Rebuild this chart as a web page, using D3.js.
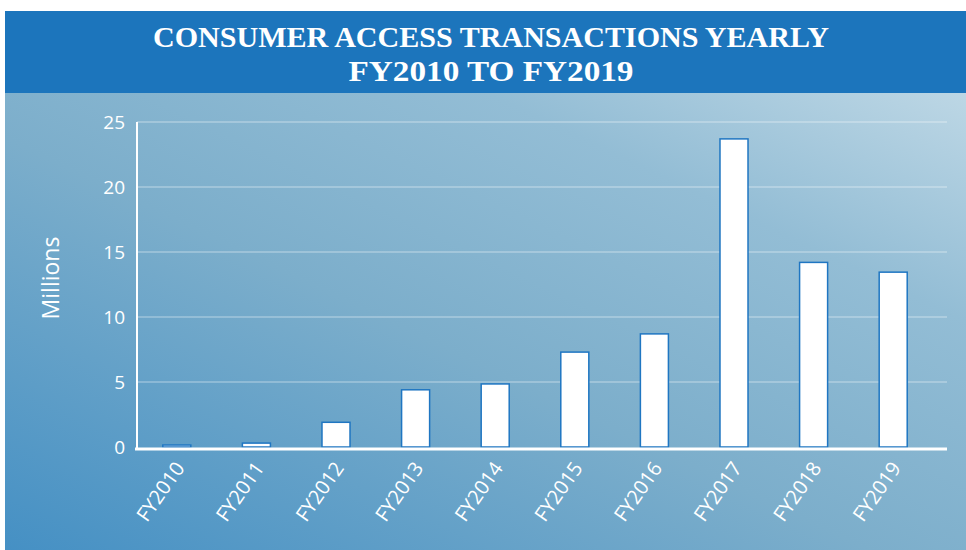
<!DOCTYPE html>
<html>
<head>
<meta charset="utf-8">
<script src="https://cdn.jsdelivr.net/npm/d3@7"></script>
<style>
  html, body { margin: 0; padding: 0; background: #ffffff; }
  svg { display: block; }
</style>
</head>
<body>
<svg id="chart" width="966" height="550"></svg>
<script>
// Fiscal years and consumer access transactions (millions)
const years = ["FY2010", "FY2011", "FY2012", "FY2013", "FY2014",
               "FY2015", "FY2016", "FY2017", "FY2018", "FY2019"];
const transactions = [0.15, 0.3, 1.9, 4.4, 4.85, 7.3, 8.7, 23.7, 14.2, 13.45];
const yTicks = [0, 5, 10, 15, 20, 25];
const titleLines = ["CONSUMER ACCESS TRANSACTIONS YEARLY", "FY2010 TO FY2019"];

const W = 966, H = 550;
const svg = d3.select("#chart");

// Background gradient panel
const defs = svg.append("defs");
const grad = defs.append("linearGradient")
  .attr("id", "bg").attr("x1", 0).attr("y1", 1).attr("x2", 1).attr("y2", 0);
grad.append("stop").attr("offset", 0).attr("stop-color", "#4590c4");
grad.append("stop").attr("offset", 0.45).attr("stop-color", "#7caecb");
grad.append("stop").attr("offset", 0.75).attr("stop-color", "#93bdd5");
grad.append("stop").attr("offset", 1).attr("stop-color", "#bdd7e5");

svg.append("rect").attr("x", 5).attr("y", 92).attr("width", W - 5).attr("height", H - 92)
  .attr("fill", "url(#bg)");

// Title banner
svg.append("rect").attr("x", 5).attr("y", 11).attr("width", W - 5).attr("height", 82)
  .attr("fill", "#1c75bc");

const titleW = [676, 285];
const titleY = [47, 81];
titleLines.forEach((t, i) => {
  svg.append("text")
    .attr("x", 491).attr("y", titleY[i])
    .attr("text-anchor", "middle")
    .attr("font-family", "'Liberation Serif', 'DejaVu Serif', serif")
    .attr("font-weight", "bold")
    .attr("font-size", 30)
    .attr("fill", "#ffffff")
    .attr("textLength", titleW[i])
    .attr("lengthAdjust", "spacingAndGlyphs")
    .text(t);
});

// Scales
const x = d3.scaleBand().domain(years).range([137, 933]).paddingInner(0.648).paddingOuter(0.324);
const y = d3.scaleLinear().domain([0, 25]).range([447, 122]);

// Horizontal gridlines
svg.append("g").selectAll("line").data(yTicks.filter(d => d > 0)).join("line")
  .attr("x1", 137).attr("x2", 947)
  .attr("y1", d => y(d)).attr("y2", d => y(d))
  .attr("stroke", "#ffffff").attr("stroke-opacity", 0.25).attr("stroke-width", 2);

// Y axis labels
const yAxis = d3.axisLeft(y).tickValues(yTicks).tickSize(0).tickPadding(12);
const gy = svg.append("g").attr("transform", "translate(137,0)").call(yAxis);
gy.select(".domain").remove();
gy.selectAll("text")
  .attr("font-family", "'Open Sans', 'Noto Sans', sans-serif")
  .attr("font-size", 19)
  .attr("fill", "#ffffff");

// Y axis line
svg.append("line").attr("x1", 137).attr("x2", 137).attr("y1", 122).attr("y2", 448)
  .attr("stroke", "#ffffff").attr("stroke-width", 2);

// Bars
svg.append("g").selectAll("rect").data(years).join("rect")
  .attr("x", d => x(d))
  .attr("y", (d, i) => y(transactions[i]))
  .attr("width", x.bandwidth())
  .attr("height", (d, i) => y(0) - y(transactions[i]))
  .attr("fill", "#ffffff")
  .attr("stroke", "#1f76c2")
  .attr("stroke-width", 1.5);

// Baseline
svg.append("line").attr("x1", 135).attr("x2", 947).attr("y1", 449).attr("y2", 449)
  .attr("stroke", "#ffffff").attr("stroke-width", 3);

// X axis labels (rotated)
const xAxis = d3.axisBottom(x).tickSize(0).tickPadding(0);
const gx = svg.append("g").attr("transform", "translate(0,449)").call(xAxis);
gx.select(".domain").remove();
gx.selectAll("text")
  .attr("font-family", "'Open Sans', 'Noto Sans', sans-serif")
  .attr("font-size", 20)
  .attr("fill", "#ffffff")
  .attr("text-anchor", "end")
  .attr("y", 0)
  .attr("dy", "0.35em")
  .attr("transform", "translate(3,15) rotate(-55)");

// Y axis title
svg.append("text")
  .attr("transform", "translate(59,278) rotate(-90)")
  .attr("text-anchor", "middle")
  .attr("font-family", "'Open Sans', 'Noto Sans', sans-serif")
  .attr("font-size", 23)
  .attr("fill", "#ffffff")
  .text("Millions");
</script>
</body>
</html>
